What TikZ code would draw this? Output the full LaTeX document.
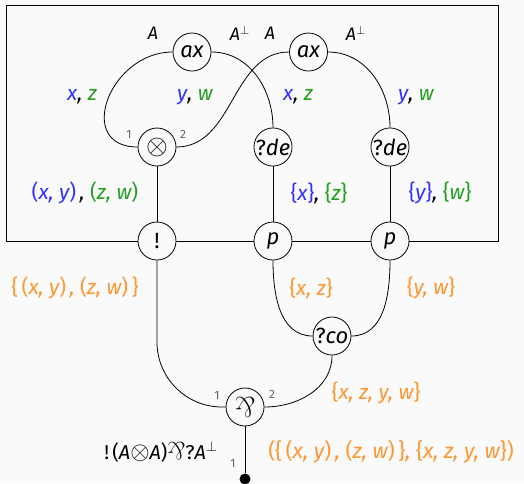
\documentclass[tikz,border=0pt]{standalone}
\usepackage{fontspec}
\setmainfont{Fira Sans}
\newfontfamily\lmr{Latin Modern Roman}
\usepackage{graphicx}
\definecolor{bg}{RGB}{250,250,250}
\definecolor{cb}{RGB}{50,50,255}
\definecolor{cg}{RGB}{34,160,34}
\definecolor{co}{RGB}{255,150,50}
\definecolor{pg}{RGB}{90,100,112}
\newcommand\up[1]{{\upshape #1}}
\newcommand\parrsym{\rotatebox[origin=c]{180}{\upshape\lmr\&}}
\newcommand\tensglyph{\scalebox{1.35}{$\otimes$}}
\tikzset{
  nd/.style={circle, draw, line width=0.8pt, minimum size=38pt, inner sep=0pt, fill=bg, font=\fontsize{22}{26}\selectfont\itshape},
  albl/.style={font=\fontsize{18}{22}\selectfont\itshape, inner sep=0pt},
  lbl/.style={font=\fontsize{21}{25}\selectfont\itshape, inner sep=0pt},
  flbl/.style={font=\fontsize{20}{24}\selectfont\itshape, inner sep=0pt},
  port/.style={font=\fontsize{12}{14}\selectfont, text=pg, inner sep=0pt},
  wire/.style={line width=0.8pt},
}
\begin{document}
\begin{tikzpicture}[x=1pt,y=-1pt]
\fill[bg] (0,0) rectangle (524,483);
\useasboundingbox (0,0) rectangle (524,483);
\draw[wire] (6,5) rectangle (498,241);
% nodes
\node[nd] (ax1) at (192,52) {ax};
\node[nd] (ax2) at (308.5,52) {ax};
\node[nd] (tens) at (157,147) {\tensglyph};
\node[nd] (de1) at (273,147) {\up{?}de};
\node[nd] (de2) at (390,147) {\up{?}de};
\node[nd] (bang) at (157,241) {\up{!}};
\node[nd] (p1) at (273,241) {p};
\node[nd] (p2) at (390,241) {p};
\node[nd] (qco) at (332,336) {\up{?}co};
\node[nd] (parr) at (245,407) {\scalebox{1.3}{\parrsym}};
\node[circle, fill=black, minimum size=11pt, inner sep=0pt] (dot) at (245,479) {};
% wires
\draw[wire] (ax1.west) to[out=180,in=180,looseness=1.6] (tens.west);
\draw[wire] (tens.east) to[out=0,in=180] (ax2.west);
\draw[wire] (ax1.east) to[out=0,in=90] (de1.north);
\draw[wire] (ax2.east) to[out=0,in=90] (de2.north);
\draw[wire] (tens) -- (bang);
\draw[wire] (de1) -- (p1);
\draw[wire] (de2) -- (p2);
\draw[wire] (p1.south) to[out=-90,in=180] (qco.west);
\draw[wire] (p2.south) to[out=-90,in=0] (qco.east);
\draw[wire, rounded corners=65pt] (bang.south) |- (parr.west);
\draw[wire] (qco.south) to[out=-90,in=0] (parr.east);
\draw[wire] (parr) -- (dot);
% labels
\node[albl] (lA1) at (153,33) {A};
\node[albl] (lA2) at (240,33) {A$^{\perp}$};
\node[albl] (lA3) at (270,33) {A};
\node[albl] (lA4) at (356,33) {A$^{\perp}$};
\node[lbl] (lxz1) at (82,97) {\textcolor{cb}{x}, \textcolor{cg}{z}};
\node[lbl] (lyw1) at (195,97) {\textcolor{cb}{y}, \textcolor{cg}{w}};
\node[lbl] (lxz2) at (298,97) {\textcolor{cb}{x}, \textcolor{cg}{z}};
\node[lbl] (lyw2) at (416,97) {\textcolor{cb}{y}, \textcolor{cg}{w}};
\node[port] (pt1) at (129,134) {1};
\node[port] (pt2) at (183,134) {2};
\node[lbl] (lpair) at (85,193) {\textcolor{cb}{\up{(}x, y\up{)}}\,, \textcolor{cg}{\up{(}z, w\up{)}}};
\node[lbl] (lsx) at (319,193) {\textcolor{cb}{\up{\{}x\up{\}}}, \textcolor{cg}{\up{\{}z\up{\}}}};
\node[lbl] (lsy) at (440,193) {\textcolor{cb}{\up{\{}y\up{\}}}, \textcolor{cg}{\up{\{}w\up{\}}}};
\node[lbl, text=co] (lset1) at (75,288) {\up{\{}\,\up{(}x, y\up{)}\,, \up{(}z, w\up{)}\,\up{\}}};
\node[lbl, text=co] (lset2) at (311,288) {\up{\{}x, z\up{\}}};
\node[lbl, text=co] (lset3) at (431,288) {\up{\{}y, w\up{\}}};
\node[lbl, text=co] (lset4) at (376,393) {\up{\{}x, z, y, w\up{\}}};
\node[port] (pt3) at (217,395) {1};
\node[port] (pt4) at (272,394) {2};
\node[port] (pt5) at (233,463) {1};
\node[flbl] (lform) at (161,452) {\up{!}\,\up{(}A\scalebox{1.2}{$\otimes$}A\up{)}\scalebox{1.25}{\parrsym}\up{?}A$^{\perp}$};
\node[lbl, text=co, font=\fontsize{21.5}{25}\selectfont\itshape] (lval) at (391,452) {\up{(}\up{\{}\,\up{(}x, y\up{)}\,, \up{(}z, w\up{)}\,\up{\}}, \up{\{}x, z, y, w\up{\}}\up{)}};
\end{tikzpicture}
\end{document}
